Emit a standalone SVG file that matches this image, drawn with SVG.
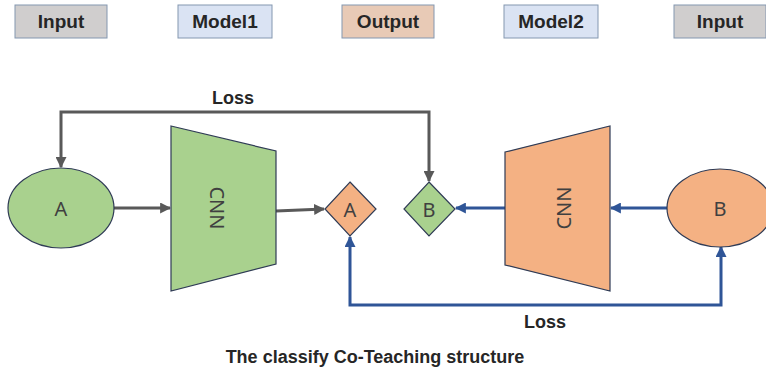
<svg xmlns="http://www.w3.org/2000/svg" width="766" height="371" viewBox="0 0 766 371">
<defs>
<style>
.hdr{stroke:#8497B0;stroke-width:1}
.lbl{font-family:"Liberation Sans",Arial,sans-serif;font-weight:bold;font-size:19px;fill:#262626;text-anchor:middle}
.node{stroke:#2F3B55;stroke-width:1.2}
.green{fill:#A9D18E}
.orange{fill:#F4B183}
.nt{font-family:"Noto Sans","Liberation Sans",sans-serif;font-size:20px;fill:#404040;text-anchor:middle;dominant-baseline:central}
.gray{fill:none;stroke:#595959;stroke-width:3}
.blue{fill:none;stroke:#2F5597;stroke-width:3}
.loss{font-family:"Liberation Sans",Arial,sans-serif;font-weight:bold;font-size:18px;fill:#262626;text-anchor:middle}
</style>
<marker id="ag" viewBox="0 0 10 10" markerUnits="userSpaceOnUse" markerWidth="11" markerHeight="11" refX="9" refY="5" orient="auto-start-reverse"><path d="M0,0 L10,5 L0,10 z" fill="#595959"/></marker>
<marker id="ab" viewBox="0 0 10 10" markerUnits="userSpaceOnUse" markerWidth="11" markerHeight="11" refX="9" refY="5" orient="auto-start-reverse"><path d="M0,0 L10,5 L0,10 z" fill="#2F5597"/></marker>
</defs>
<rect width="766" height="371" fill="#ffffff"/>
<g id="legend">
<g id="hdr-input1"><rect class="hdr" x="15" y="5" width="92" height="33" fill="#D0CECE"/><text class="lbl" x="61" y="28">Input</text></g>
<g id="hdr-model1"><rect class="hdr" x="178" y="5" width="94" height="33" fill="#DAE3F3"/><text class="lbl" x="225" y="28">Model1</text></g>
<g id="hdr-output"><rect class="hdr" x="342" y="5" width="92" height="33" fill="#E8CAB6"/><text class="lbl" x="388" y="28">Output</text></g>
<g id="hdr-model2"><rect class="hdr" x="504" y="5" width="94" height="33" fill="#DAE3F3"/><text class="lbl" x="551" y="28">Model2</text></g>
<g id="hdr-input2"><rect class="hdr" x="674" y="5" width="92" height="33" fill="#D0CECE"/><text class="lbl" x="720" y="28">Input</text></g>
</g>
<g id="connectors">
<path class="gray" d="M61,167 V112 H429 V181" marker-start="url(#ag)" marker-end="url(#ag)"/>
<path class="gray" d="M114,208 H170" marker-end="url(#ag)"/>
<path class="gray" d="M276,211 L324,209" marker-end="url(#ag)"/>
<path class="blue" d="M350,237 V305 H721 V247" marker-start="url(#ab)" marker-end="url(#ab)"/>
<path class="blue" d="M505,208 H456" marker-end="url(#ab)"/>
<path class="blue" d="M668,208 H611" marker-end="url(#ab)"/>
<text class="loss" x="233" y="104">Loss</text>
<text class="loss" x="545" y="328">Loss</text>
</g>
<g id="inputA"><ellipse class="node green" cx="61" cy="208" rx="53" ry="40"/><text class="nt" x="61" y="208">A</text></g>
<g id="cnn1"><polygon class="node green" points="171,126 276,151 276,264 171,291"/><text class="nt" transform="translate(217,208) rotate(90)">CNN</text></g>
<g id="outA"><polygon class="node orange" points="350,182 376,209 350,236 325,209"/><text class="nt" x="350" y="209">A</text></g>
<g id="outB"><polygon class="node green" points="429,182 455,209 429,236 404,209"/><text class="nt" x="429" y="209">B</text></g>
<g id="cnn2"><polygon class="node orange" points="505,152 610,126 610,291 505,265"/><text class="nt" transform="translate(563,208) rotate(-90)">CNN</text></g>
<g id="inputB"><ellipse class="node orange" cx="720" cy="208" rx="53" ry="39"/><text class="nt" x="720" y="208">B</text></g>
<text class="loss" x="375" y="363" style="font-size:18px">The classify Co-Teaching structure</text>
</svg>
